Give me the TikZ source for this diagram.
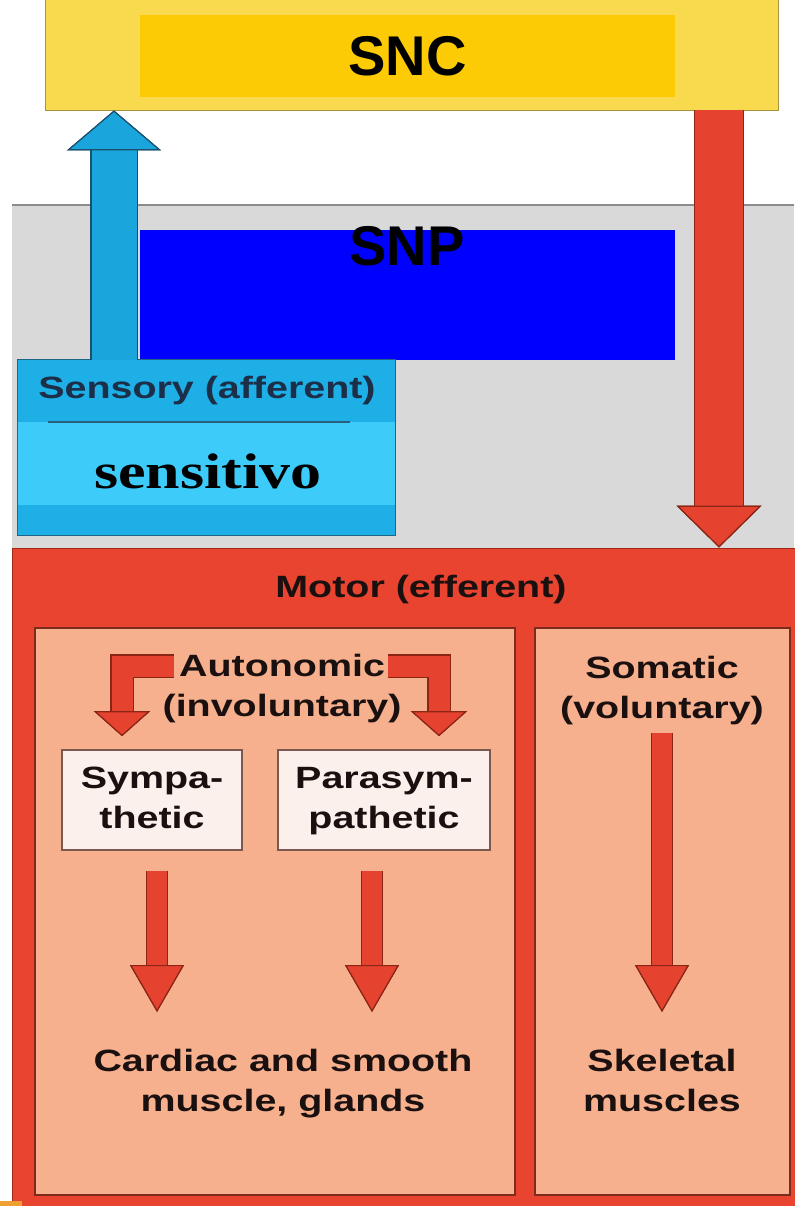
\documentclass[tikz,border=0pt]{standalone}
\usepackage{fontspec}
\setmainfont{Liberation Sans}
\newfontfamily\sensfont{Liberation Serif}
\usetikzlibrary{arrows.meta,positioning}

\definecolor{sncouter}{HTML}{F9D94E}
\definecolor{sncinner}{HTML}{FCCB05}
\definecolor{sncedge}{HTML}{A8923A}
\definecolor{greyband}{HTML}{D9D9D9}
\definecolor{greyedge}{HTML}{8C8C8C}
\definecolor{snpblue}{HTML}{0000FF}
\definecolor{sensdark}{HTML}{1DAFE6}
\definecolor{senslight}{HTML}{3DCBFA}
\definecolor{sensedge}{HTML}{1B6785}
\definecolor{sensline}{HTML}{2A5F7E}
\definecolor{senstext}{HTML}{1C2E48}
\definecolor{arrowblue}{HTML}{1AA5DD}
\definecolor{blueedge}{HTML}{1A4F6E}
\definecolor{motorred}{HTML}{E8442F}
\definecolor{motoredge}{HTML}{A02818}
\definecolor{arrowred}{HTML}{E5432F}
\definecolor{rededge}{HTML}{8B2516}
\definecolor{peach}{HTML}{F6B08E}
\definecolor{boxedge}{HTML}{7E2A1C}
\definecolor{palebox}{HTML}{FBF0EC}
\definecolor{paleedge}{HTML}{7A5A50}
\definecolor{textdark}{HTML}{1A1010}
\definecolor{bottomorange}{HTML}{F0A030}

% texte elargi comme dans l'original
\newcommand{\widetext}[1]{\scalebox{1.28}[1]{\begin{tabular}{@{}c@{}}#1\end{tabular}}}

\begin{document}
\begin{tikzpicture}[x=0.5pt,y=-0.5pt,
  box/.style={draw, rectangle, inner sep=0pt},
  label text/.style={font=\bfseries\fontsize{15.4}{20}\selectfont, text=textdark},
  big text/.style={font=\bfseries\fontsize{28}{30}\selectfont, text=black},
  fat arrow/.style n args={5}{draw=#1, line width=#3, line join=miter,
    -{Triangle[width=#4, length=#5, fill=#1, color=#2, line width=0.6pt]},
    preaction={draw=#2, line width=#3+1.2pt,
      -{Triangle[width=#4, length=#5, fill=#2, color=#2, line width=0.6pt]}}},
  red arrow/.style={fat arrow={arrowred}{rededge}{10pt}{27pt}{23.5pt}},
  bent arrow/.style={fat arrow={arrowred}{rededge}{10.5pt}{28pt}{12.5pt}}]
  \useasboundingbox (0,0) rectangle (794,1206);

  % bande grise du systeme peripherique
  \fill[greyband] (12,205) rectangle (794,548);
  \draw[greyedge, line width=1pt] (12,205) -- (794,205);

  % SNC
  \node[box, fill=sncouter, draw=sncedge, minimum width=366.5pt, minimum height=57.5pt] (snc) at (411.5,52.5) {};
  \node[box, fill=sncinner, draw=none, minimum width=267.5pt, minimum height=41pt, big text] (sncin) at (407.5,56) {SNC};

  % SNP
  \node[box, fill=snpblue, draw=none, minimum width=267.5pt, minimum height=65pt] (snp) at (407.5,295) {};
  \node[big text] (snplabel) at (407,246) {SNP};

  % voie sensitive
  \node[box, fill=senslight, draw=none, minimum width=188.5pt, minimum height=87.5pt] (sensory) at (206.5,447.5) {};
  \fill[sensdark] (sensory.north west) rectangle ++(377,62);
  \fill[sensdark] (18,505) rectangle (395,535);
  \draw[sensedge, line width=0.8pt] (sensory.north west) rectangle (sensory.south east);
  \draw[sensline, line width=0.8pt] (48,422) -- (350,422);
  \node[font=\bfseries\fontsize{15.4}{20}\selectfont, text=senstext] (senstxt) at (207,390) {\widetext{Sensory (afferent)}};
  \node[font=\sensfont\bfseries\fontsize{25}{28}\selectfont, text=black] (sensitivo) at (208,471) {\scalebox{1.24}[1]{sensitivo}};
  \coordinate (sensup) at (114,360);
  \draw[fat arrow={arrowblue}{blueedge}{22.5pt}{47pt}{20pt}] (sensup) -- (sensup |- snc.south);

  % voie motrice
  \node[box, fill=motorred, draw=motoredge, minimum width=394pt, minimum height=329pt] (motor) at (406,877) {};
  \fill[bottomorange] (0,1201) rectangle (22,1206);
  \coordinate (mdown) at (719,110);
  \draw[fat arrow={arrowred}{rededge}{24pt}{42.5pt}{21pt}] (mdown) -- (mdown |- motor.north);
  \node[label text] (motortxt) at (421,589) {\widetext{Motor (efferent)}};

  \node[box, fill=peach, draw=boxedge, line width=1pt, minimum width=240pt, minimum height=283.5pt] (auto) at (275,911.5) {};
  \node[box, fill=peach, draw=boxedge, line width=1pt, minimum width=127.5pt, minimum height=283.5pt] (soma) at (662.5,911.5) {};

  \node[label text] (autotxt) at (282,688) {\widetext{Autonomic\\(involuntary)}};
  \node[label text] (somatxt) at (662,690) {\widetext{Somatic\\(voluntary)}};
  \node[box, fill=palebox, draw=paleedge, line width=0.8pt, minimum width=90pt, minimum height=50pt, label text] (symp) at (152,800) {\widetext{Sympa-\\thetic}};
  \node[box, fill=palebox, draw=paleedge, line width=0.8pt, minimum width=106pt, minimum height=50pt, label text] (para) at (384,800) {\widetext{Parasym-\\pathetic}};
  \node[label text] (cardiac) at (283,1083) {\widetext{Cardiac and smooth\\muscle, glands}};
  \node[label text] (skeletal) at (662,1083) {\widetext{Skeletal\\muscles}};

  % fleches coudees vers les deux branches
  \coordinate (autoleft) at (174,666);
  \coordinate (autoright) at (388,666);
  \draw[bent arrow, shorten >=6.5pt] (autoleft) -| ([xshift=-15pt]symp.north);
  \draw[bent arrow, shorten >=6.5pt] (autoright) -| ([xshift=27.5pt]para.north);

  % fleches vers les effecteurs
  \coordinate (tipline) at (0,1012);
  \coordinate (somatop) at (662,733);
  \draw[red arrow, shorten <=10pt] ([xshift=2.5pt]symp.south) -- ([xshift=2.5pt]symp.south |- tipline);
  \draw[red arrow, shorten <=10pt] ([xshift=-6pt]para.south) -- ([xshift=-6pt]para.south |- tipline);
  \draw[red arrow] (somatop) -- (somatop |- tipline);
\end{tikzpicture}
\end{document}
